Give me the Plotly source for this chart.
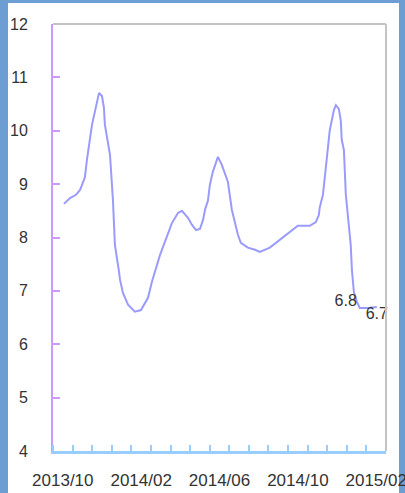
import plotly.graph_objects as go

# Month index (0 = 2013/10) and rate values
months = [0.06, 0.37, 0.67, 0.88, 1.13, 1.23, 1.49, 1.74, 1.85, 2.00, 2.10, 2.15, 2.41, 2.56,
          2.66, 2.87, 2.92, 3.07, 3.33, 3.68, 3.99, 4.35, 4.55, 4.96, 5.32, 5.57, 5.88, 6.08,
          6.39, 6.59, 6.80, 7.00, 7.16, 7.26, 7.41, 7.51, 7.66, 7.92, 8.12, 8.43, 8.63, 8.84,
          8.94, 9.09, 9.45, 9.81, 10.06, 10.57, 11.08, 11.59, 12.00, 12.61, 12.92, 13.07, 13.12,
          13.28, 13.43, 13.63, 13.84, 13.94, 14.09, 14.19, 14.24, 14.35, 14.45, 14.60, 14.70,
          14.76, 14.86, 15.01, 15.16, 15.57, 16.03]
values = [8.63, 8.74, 8.80, 8.89, 9.13, 9.45, 10.11, 10.52, 10.71, 10.65, 10.43, 10.11, 9.55, 8.70,
          7.86, 7.36, 7.21, 6.96, 6.74, 6.61, 6.64, 6.87, 7.17, 7.67, 8.03, 8.27, 8.46, 8.50,
          8.37, 8.24, 8.14, 8.16, 8.33, 8.52, 8.69, 8.99, 9.23, 9.51, 9.36, 9.04, 8.52, 8.22,
          8.05, 7.90, 7.81, 7.77, 7.73, 7.81, 7.96, 8.10, 8.22, 8.22, 8.29, 8.42, 8.57,
          8.80, 9.27, 10.01, 10.39, 10.48, 10.41, 10.20, 9.83, 9.64, 8.80, 8.24, 7.86,
          7.39, 6.98, 6.8, 6.68, 6.68, 6.7]
point_labels = [""] * (len(values) - 4) + ["6.8", "", "", "6.7"]
label_pos = ["top center"] * (len(values) - 4) + ["middle left", "top center", "top center", "bottom center"]

tick_positions = [0, 4, 8, 12, 16]
tick_labels = ["2013/10", "2014/02", "2014/06", "2014/10", "2015/02"]
y_ticks = [4, 5, 6, 7, 8, 9, 10, 11, 12]

W, H = 405, 493
ML, MR, MT, MB = 53, 19, 24, 42
pw, ph = W - ML - MR, H - MT - MB

fig = go.Figure()
fig.add_trace(go.Scatter(
    x=months, y=values, mode="lines+text",
    text=point_labels, textposition=label_pos,
    textfont=dict(size=16, color="#333333"),
    line=dict(color="#9a9aff", width=2),
    hoverinfo="x+y", showlegend=False, cliponaxis=False,
))

def px_x(p):
    return (p - ML) / pw

def px_y(p):
    return (H - MB - p) / ph

shapes = [
    # white page inside the blue frame
    dict(type="rect", xref="paper", yref="paper", layer="below",
         x0=px_x(8), x1=px_x(399), y0=px_y(H + 5), y1=px_y(3),
         fillcolor="white", line=dict(width=0)),
    # grey top and right borders of plot area
    dict(type="line", xref="paper", yref="paper", x0=0, x1=1, y0=1, y1=1,
         line=dict(color="#c4c4c4", width=2)),
    dict(type="line", xref="paper", yref="paper", x0=1, x1=1, y0=0, y1=1,
         line=dict(color="#c4c4c4", width=2)),
]

fig.update_layout(
    width=W, height=H,
    margin=dict(l=ML, r=MR, t=MT, b=MB, pad=0, autoexpand=False),
    paper_bgcolor="#6c9ed3",
    plot_bgcolor="white",
    font=dict(family="Liberation Sans, Arial, sans-serif", size=16, color="#333333"),
    shapes=shapes,
    xaxis=dict(
        range=[-0.5, 16.5], tickmode="array", tickvals=tick_positions, ticktext=tick_labels,
        ticks="", showgrid=False, zeroline=False, automargin=False,
        ticklabeloverflow="allow", tickfont=dict(size=17),
        showline=True, linecolor="#99ccff", linewidth=3,
        ticklabelstandoff=12,
        minor=dict(tick0=0.5, dtick=1, ticks="inside", ticklen=6, tickwidth=2,
                   tickcolor="#99ccff", showgrid=False),
    ),
    yaxis=dict(
        range=[4, 12], tickmode="array", tickvals=y_ticks, automargin=False,
        ticks="inside", ticklen=7, tickwidth=2, tickcolor="#cc99ff",
        tickfont=dict(size=16),
        showgrid=False, zeroline=False,
        showline=True, linecolor="#cc99ff", linewidth=2,
        ticklabelstandoff=20,
    ),
)

fig.write_html("out.html")
